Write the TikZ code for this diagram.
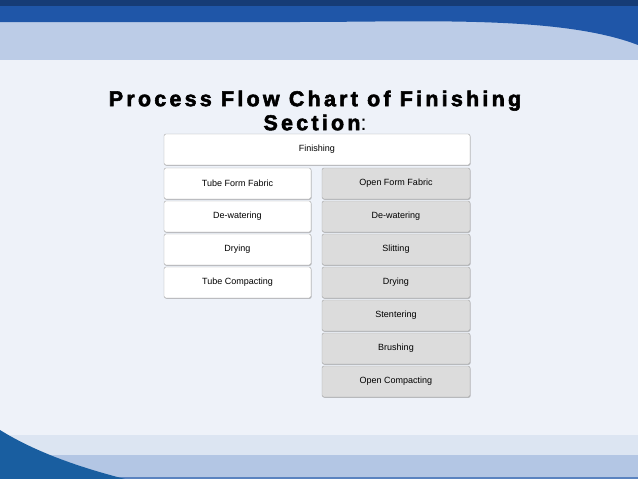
\documentclass[tikz,border=0pt]{standalone}
\usepackage{fontspec}
\setmainfont{Liberation Sans}
\newfontfamily\titlefont[FakeBold=2.5,LetterSpace=15]{Liberation Sans Bold}
\usetikzlibrary{shadows}
\definecolor{bg}{HTML}{EEF2F9}
\definecolor{dblue}{HTML}{1F56A8}
\definecolor{mblue}{HTML}{8FAAD6}
\definecolor{lband}{HTML}{DCE5F2}
\definecolor{bband}{HTML}{B3C6E4}
\definecolor{gbox}{HTML}{DCDCDC}
\tikzset{
  boxw/.style={draw=gray!70, rounded corners=2pt, fill=white, minimum height=31pt, inner sep=0pt, font=\fontsize{9}{11}\selectfont, drop shadow={shadow xshift=0.6pt, shadow yshift=-0.8pt, opacity=0.5}},
  boxg/.style={boxw, fill=gbox},
}
\begin{document}
\begin{tikzpicture}[x=1pt,y=-1pt]
\useasboundingbox (0,0) rectangle (638,479);
\fill[bg] (0,0) rectangle (638,479);
% top banner
\fill[mblue!60!white] (0,0) rectangle (638,60);
\fill[dblue] (0,0) -- (638,0) -- (638,45) .. controls (560,15) and (420,22) .. (300,22) -- (0,22) -- cycle;
\fill[dblue!70!black] (0,0) rectangle (638,6);
% bottom bands
\fill[lband] (0,435) rectangle (638,455);
\fill[bband] (0,455) rectangle (638,477);
\fill[dblue!60!bband] (0,477) rectangle (638,479);
\fill[dblue!80!teal] (0,430) .. controls (40,455) and (90,470) .. (125,479) -- (0,479) -- cycle;
% title
\node[font=\fontsize{21.5}{24}\titlefont, align=center, text=black, drop shadow={shadow xshift=0pt, shadow yshift=0pt, opacity=0}] (title) at (315,110.5)
 {Process Flow Chart of Finishing\\Section{\normalfont:}};
% boxes
\node[boxw, minimum width=306pt] (fin) at (317,149.5) {Finishing};
\node[boxw, minimum width=147pt] (tff) at (237.5,183.5) {Tube Form Fabric};
\node[boxw, minimum width=147pt] (dw1) at (237.5,216.5) {De-watering};
\node[boxw, minimum width=147pt] (dr1) at (237.5,249.5) {Drying};
\node[boxw, minimum width=147pt] (tc) at (237.5,282.5) {Tube Compacting};
\node[boxg, minimum width=148pt] (off) at (396,183.5) {Open Form Fabric};
\node[boxg, minimum width=148pt] (dw2) at (396,216.5) {De-watering};
\node[boxg, minimum width=148pt] (sl) at (396,249.5) {Slitting};
\node[boxg, minimum width=148pt] (dr2) at (396,282.5) {Drying};
\node[boxg, minimum width=148pt] (st) at (396,315.5) {Stentering};
\node[boxg, minimum width=148pt] (br) at (396,348.5) {Brushing};
\node[boxg, minimum width=148pt] (oc) at (396,381.5) {Open Compacting};
\end{tikzpicture}
\end{document}
